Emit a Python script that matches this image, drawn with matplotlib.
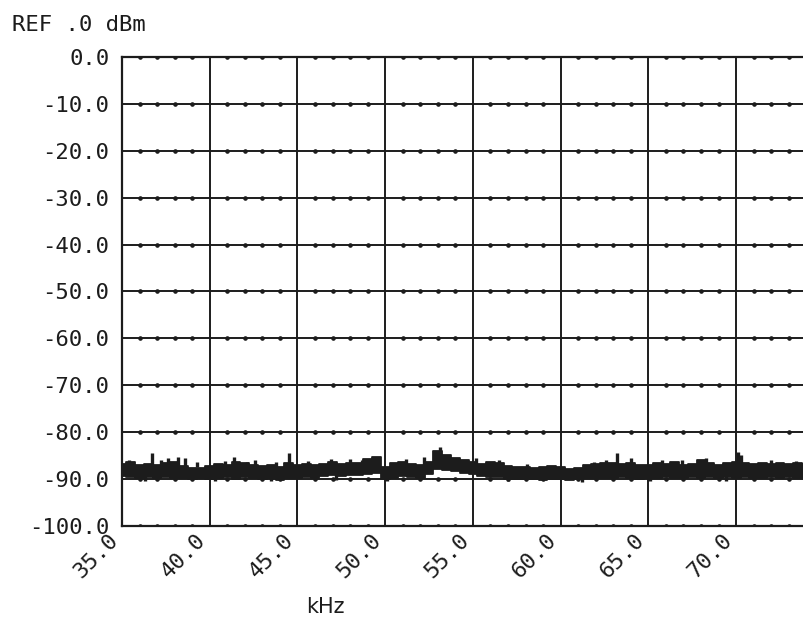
import numpy as np
import matplotlib
matplotlib.use("Agg")
import matplotlib.pyplot as plt

# frequency grid of the trace, kHz (every 0.5 kHz)
freq = np.arange(35.0, 75.01, 0.5)

# upper / lower edge of the noise band, dBm
upper = [-86.8, -86.3, -87.0, -86.8, -86.9, -86.6, -86.4, -87.2, -87.6, -87.7,
         -87.2, -86.8, -87.0, -86.3, -86.6, -86.9, -87.2, -87.0, -87.4, -86.5,
         -87.0, -86.8, -86.9, -86.7, -86.4, -86.7, -86.6, -86.5, -85.8, -85.2,
         -87.5, -86.6, -86.3, -86.8, -87.0, -86.3, -84.0, -84.8, -85.6, -86.0,
         -86.3, -86.8, -86.4, -86.5, -87.3, -87.4, -87.5, -87.6, -87.4, -87.2,
         -87.5, -87.9, -87.6, -87.0, -86.8, -86.6, -86.5, -86.7, -86.6, -87.0,
         -86.9, -86.5, -86.8, -86.3, -87.0, -86.8, -86.0, -86.6, -86.9, -86.6,
         -86.4, -86.5, -86.7, -86.6, -86.8, -86.5, -86.7, -86.6, -86.8, -86.7,
         -86.8]
lower = [-89.3, -89.5, -89.7, -89.6, -89.8, -89.5, -89.7, -89.8, -89.9, -89.8,
         -90.0, -89.7, -89.6, -89.9, -89.5, -89.7, -89.9, -89.8, -90.1, -89.7,
         -89.8, -89.6, -89.7, -89.3, -89.2, -89.3, -89.1, -89.2, -89.0, -88.8,
         -89.9, -89.7, -89.3, -89.6, -89.7, -88.9, -87.9, -88.1, -88.3, -88.6,
         -88.9, -89.3, -89.5, -89.6, -89.9, -89.9, -90.0, -89.9, -90.1, -90.0,
         -89.9, -90.2, -90.0, -89.8, -89.7, -89.8, -89.7, -89.6, -89.8, -89.9,
         -89.7, -89.8, -89.6, -89.7, -89.8, -89.6, -89.7, -89.5, -89.8, -89.6,
         -89.7, -89.6, -89.7, -89.8, -89.6, -89.7, -89.5, -89.7, -89.6, -89.7,
         -89.6]

# narrow spikes sticking out of the band (up and down)
spike_f = [35.4, 36.7, 37.2, 37.6, 38.2, 38.6, 39.3, 40.9, 41.4, 42.1, 42.6,
           43.8, 44.5, 45.6, 46.9, 48.0, 48.7, 51.2, 52.2, 53.1, 55.2, 56.5,
           58.1, 61.9, 62.6, 63.2, 64.0, 65.8, 66.9, 68.3, 70.1, 70.3, 72.0,
           73.4]
spike_db = [-85.9, -84.4, -86.0, -85.4, -85.2, -85.6, -86.4, -86.2, -85.3,
            -86.4, -86.0, -86.3, -84.4, -86.2, -85.7, -85.8, -85.9, -85.8,
            -85.3, -83.2, -85.6, -86.0, -86.7, -86.4, -86.0, -84.5, -85.6,
            -85.9, -86.0, -85.5, -84.3, -84.8, -86.0, -86.1]
dip_f = [36.3, 40.3, 43.5, 47.2, 50.1, 57.0, 61.2, 65.1, 69.4]
dip_db = [-90.3, -90.4, -90.3, -90.1, -90.3, -90.4, -90.7, -90.3, -90.3]

xticks = [35, 40, 45, 50, 55, 60, 65, 70]
xticklabels = ["35.0", "40.0", "45.0", "50.0", "55.0", "60.0", "65.0", "70.0"]
yticks = list(range(0, -101, -10))
yticklabels = ["0.0", "-10.0", "-20.0", "-30.0", "-40.0", "-50.0",
               "-60.0", "-70.0", "-80.0", "-90.0", "-100.0"]

plt.rcParams['font.family'] = ['DejaVu Sans Mono']
ink = '#1c1c1c'

fig = plt.figure(figsize=(8.04, 6.2), dpi=100)
# right edge of the screen runs off the scan, so the axes goes past the figure
ax = fig.add_axes([0.1517, 0.1516, 0.873, 0.7565])

ax.set_xlim(35, 75)
ax.set_ylim(-100, 0)

# graticule
for y in yticks:
    ax.axhline(y, color=ink, lw=1.4, zorder=1)
for x in xticks + [75]:
    ax.axvline(x, color=ink, lw=1.4, zorder=1)
# small dots every 1 kHz along the horizontal lines
minor = [f for f in range(35, 76) if f % 5 != 0]
for y in yticks:
    ax.plot(minor, [y] * len(minor), 'o', color=ink, ms=2.3, zorder=2)

# trace
ax.fill_between(freq, lower, upper, step='mid', color=ink, lw=0, zorder=3)
ax.step(freq, upper, where='mid', color=ink, lw=1.3, zorder=3)
ax.step(freq, lower, where='mid', color=ink, lw=1.3, zorder=3)
ax.vlines(spike_f, -87.5, spike_db, color=ink, lw=2.4, zorder=3)
ax.vlines(dip_f, -89.0, dip_db, color=ink, lw=2.4, zorder=3)

for s in ax.spines.values():
    s.set_color(ink)
    s.set_linewidth(1.6)

ax.set_yticks(yticks)
ax.set_yticklabels(yticklabels, fontsize=16)
ax.set_xticks(xticks)
ax.set_xticklabels(xticklabels, fontsize=16, rotation=45, ha='right', va='top')
ax.tick_params(length=0, pad=9, colors=ink)
ax.tick_params(axis='x', pad=3)

fig.text(0.015, 0.96, "REF .0 dBm", fontsize=16, color=ink, va='center')
fig.text(325 / 804, 1 - 607 / 620, "kHz", fontsize=15, color=ink,
         ha='center', va='center', family='DejaVu Sans')

fig.savefig("out.png", dpi=100)
